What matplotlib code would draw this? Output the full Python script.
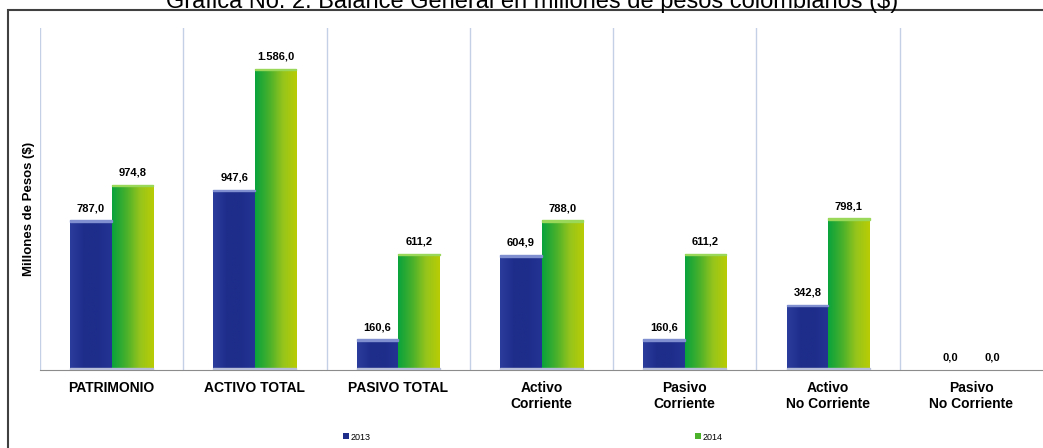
import numpy as np
import matplotlib.pyplot as plt
from matplotlib.patches import Rectangle
from matplotlib.colors import LinearSegmentedColormap

plt.rcParams['font.family'] = ['Liberation Sans', 'DejaVu Sans']

categorias = ['PATRIMONIO', 'ACTIVO TOTAL', 'PASIVO TOTAL', 'Activo\nCorriente',
              'Pasivo\nCorriente', 'Activo\nNo Corriente', 'Pasivo\nNo Corriente']
valores_2013 = [787.0, 947.6, 160.6, 604.9, 160.6, 342.8, 0.0]
valores_2014 = [974.8, 1586.0, 611.2, 788.0, 611.2, 798.1, 0.0]
series = ['2013', '2014']

def fmt(v):
    s = '{:,.1f}'.format(v)
    return s.replace(',', 'X').replace('.', ',').replace('X', '.')

fig = plt.figure(figsize=(10.43, 4.48), dpi=100)
ax = fig.add_axes([40 / 1043, 1 - 370 / 448, 1 - 40 / 1043, 342 / 448])

x = np.arange(len(categorias))
w = 0.29
azul = LinearSegmentedColormap.from_list('az', ['#2a3c9c', '#1e2d8a', '#1e2d8a', '#243494'])
verde = LinearSegmentedColormap.from_list('vd', ['#0aa33c', '#46b02c', '#95c41c', '#b8cc05'])
grad = np.linspace(0, 1, 64).reshape(1, -1)

b1 = ax.bar(x - w / 2, valores_2013, w, color='#1e2d8a', label=series[0], zorder=2)
b2 = ax.bar(x + w / 2, valores_2014, w, color='#4cb22c', label=series[1], zorder=2)

# degradado dentro de cada barra
for bars, cmap in ((b1, azul), (b2, verde)):
    for r in bars:
        h = r.get_height()
        if h <= 0:
            continue
        im = ax.imshow(grad, cmap=cmap, aspect='auto', zorder=3,
                       extent=[r.get_x(), r.get_x() + r.get_width(), 0, h])
        im.set_clip_path(r)
        ax.add_patch(Rectangle((r.get_x(), 0), r.get_width(), 8, color='#b8bfd8', zorder=4))
        ax.add_patch(Rectangle((r.get_x(), h - 8), r.get_width(), 8,
                               color='#7f8fd0' if cmap is azul else '#9ad85a', zorder=4))

for bars, vals in ((b1, valores_2013), (b2, valores_2014)):
    for r, v in zip(bars, vals):
        ax.text(r.get_x() + r.get_width() / 2, v + 38, fmt(v), ha='center', va='bottom',
                fontsize=8, fontweight='bold')

ax.set_xlim(-0.5, len(categorias) - 0.5)
ax.set_ylim(0, 1800)
for b in np.arange(len(categorias)) - 0.5:
    ax.axvline(b, color='#c3d0e6', lw=1, zorder=1)
ax.set_xticks(x)
ax.set_xticklabels(categorias, fontsize=10, fontweight='bold')
ax.tick_params(axis='x', length=0, pad=8)
ax.set_yticks([])
ax.set_ylabel('Millones de Pesos ($)', fontsize=9.5, fontweight='bold')
ax.yaxis.set_label_coords(-0.005, 0.47)
for s in ('top', 'right', 'left'):
    ax.spines[s].set_visible(False)
ax.spines['bottom'].set_color('#8c8c8c')

fig.legend(loc='center', bbox_to_anchor=(0.511, 1 - 437 / 448), ncol=2, frameon=False,
           fontsize=6.5, handlelength=0.6, handleheight=0.6, handletextpad=0.2,
           columnspacing=36)

fig.patches.append(Rectangle((8 / 1043, -0.01), 1.0, 1 - 10 / 448 + 0.01,
                             transform=fig.transFigure, fill=False, ec='#404040', lw=1.5))
fig.text(0.51, 1 - 8 / 448, 'Gráfica No. 2. Balance General en millones de pesos colombianos ($)',
         ha='center', va='baseline', fontsize=17)

fig.savefig('out.png', dpi=100)
